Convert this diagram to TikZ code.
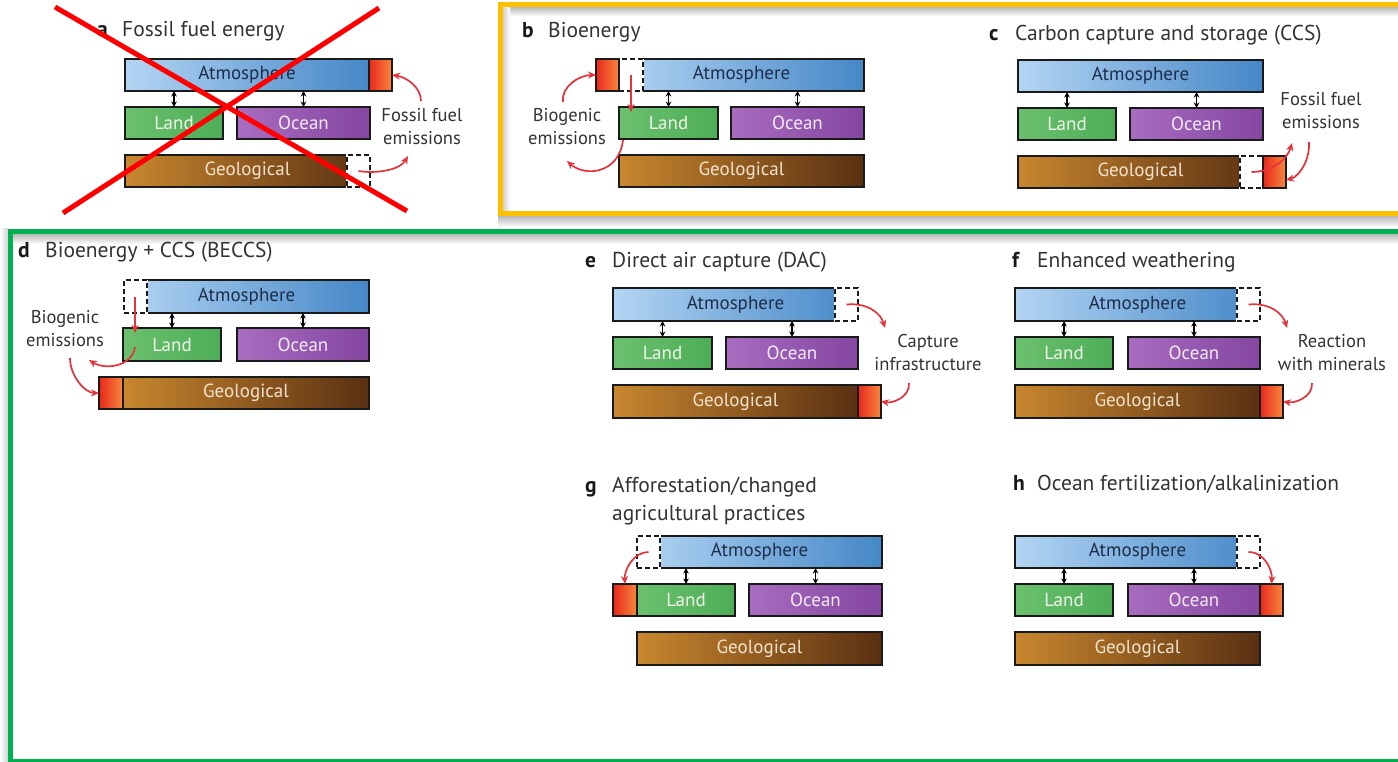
\documentclass[tikz,border=0pt]{standalone}
\usepackage{fontspec}
\setmainfont{PT Sans}
\usetikzlibrary{arrows.meta}
\definecolor{atmL}{HTML}{B3D5F3}
\definecolor{atmR}{HTML}{4587C7}
\definecolor{atmT}{HTML}{1E2D4A}
\definecolor{landL}{HTML}{6BC06E}
\definecolor{landR}{HTML}{4EAD57}
\definecolor{landT}{HTML}{EEF7EA}
\definecolor{ocL}{HTML}{A86CC0}
\definecolor{ocR}{HTML}{8446A0}
\definecolor{ocT}{HTML}{F3EAF7}
\definecolor{geoL}{HTML}{C8872F}
\definecolor{geoR}{HTML}{5A3012}
\definecolor{geoT}{HTML}{F4E3CC}
\definecolor{redL}{HTML}{E8281C}
\definecolor{redR}{HTML}{F8883E}
\definecolor{edge}{HTML}{1A1A1A}
\definecolor{arr}{HTML}{E5323B}
\definecolor{txt}{HTML}{333333}
\definecolor{frO}{HTML}{FFC000}
\definecolor{frG}{HTML}{00B050}
\definecolor{xred}{HTML}{FF0000}
\tikzset{
  cbox/.style={draw=edge, line width=1.4pt, inner sep=0pt, outer sep=0pt, font=\fontsize{19}{22}\selectfont},
  atm/.style={cbox, left color=atmL, right color=atmR, text=atmT},
  land/.style={cbox, left color=landL, right color=landR, text=landT},
  ocean/.style={cbox, left color=ocL, right color=ocR, text=ocT},
  geo/.style={cbox, left color=geoL, right color=geoR, text=geoT},
  redb/.style={cbox, left color=redL, right color=redR},
  dsh/.style={draw=edge, line width=1.3pt, dash pattern=on 5pt off 3pt, fill=white, inner sep=0pt, outer sep=0pt,
              preaction={draw=white, line width=2.8pt, solid}},
  dbl/.style={draw=black, line width=1.3pt, {Stealth[length=5.5pt,width=5.5pt]}-{Stealth[length=5.5pt,width=5.5pt]}},
  rarr/.style={draw=arr, line width=1.7pt, -{Stealth[length=8pt,width=7pt]}},
  lbl/.style={align=center, font=\fontsize{18.5}{23}\selectfont, text=txt, inner sep=0pt},
  ttl/.style={anchor=base west, font=\fontsize{21.5}{27}\selectfont, text=txt, inner sep=0pt},
  ltr/.style={anchor=base west, font=\fontsize{21.5}{27}\selectfont\bfseries, text=black!90, inner sep=0pt},
}
\newcommand\bx[7]{\node[#1, minimum width={(#5-#3)*1pt}, minimum height={(#6-#4)*1pt}] (#2) at ({(#3+#5)/2},{(#4+#6)/2}) {#7};}
\begin{document}
\begin{tikzpicture}[x=1pt,y=-1pt]
\useasboundingbox (0,0) rectangle (1398,762);
\clip (0,0) rectangle (1398,762);
\fill[white] (0,0) rectangle (1398,762);

% ---- frames and shadows
\shade[top color=black!28, bottom color=white] (503,7) rectangle (1398,16);
\shade[top color=black!28, bottom color=white] (498,216) rectangle (1398,227);
\shade[left color=black!18, right color=white] (503,7) rectangle (510,211);
\shade[top color=black!28, bottom color=white] (13,234) rectangle (1398,244);
\shade[left color=white, right color=black!18] (0,229) rectangle (8,762);
\draw[frO, line width=5pt] (1410,4.5) -- (500.5,4.5) -- (500.5,213.5) -- (1410,213.5);
\draw[frG, line width=5pt] (1410,231.5) -- (10.5,231.5) -- (10.5,761.5) -- (1410,761.5);

% ---- panel a
\node[ltr] (aN) at (97,37) {a};
\node[ttl] (aH) at (122,37) {Fossil fuel energy};
\bx{atm}{aA}{125}{59}{369}{91}{Atmosphere}
\bx{redb}{aR}{369}{59}{392}{91}{}
\bx{land}{aL}{125}{107}{223}{139}{Land}
\bx{ocean}{aO}{237}{107}{370}{139}{Ocean}
\bx{geo}{aG}{125}{155}{370}{187}{Geological}
\bx{dsh}{aD}{347}{155}{370}{187}{}
\node[lbl] (aT) at (422,127) {Fossil fuel\\emissions};
\coordinate (a1) at (421,101);
\coordinate (a2) at (408,156);
\draw[rarr] (a1) .. controls +(0,-14) and +(14,2) .. (aR.east);
\draw[rarr] (aD.center) .. controls +(18,3) and +(-8,14) .. (a2);

% ---- panel b
\node[ltr] (bN) at (522,38) {b};
\node[ttl] (bH) at (548,38) {Bioenergy};
\bx{atm}{bA}{619}{59}{864}{91}{Atmosphere}
\bx{dsh}{bD}{619}{59}{643}{91}{}
\bx{redb}{bR}{596}{59}{619}{91}{}
\bx{land}{bL}{619}{107}{718}{139}{Land}
\bx{ocean}{bO}{731}{107}{864}{139}{Ocean}
\bx{geo}{bG}{619}{155}{864}{187}{Geological}
\node[lbl] (bT) at (567,127) {Biogenic\\emissions};
\coordinate (b2) at (563,102);
\coordinate (b3) at (623,140);
\coordinate (b4) at (567,161);
\draw[rarr] (bD.center) -- ([yshift=-5pt]bD.center |- bL.north);
\draw[rarr] (b2) .. controls +(-2,-16) and +(-16,0) .. (bR.west);
\draw[rarr] (b3) .. controls +(-4,34) and +(18,16) .. (b4);

% ---- panel c
\node[ltr] (cN) at (989,41) {c};
\node[ttl] (cH) at (1015,41) {Carbon capture and storage (CCS)};
\bx{atm}{cA}{1018}{60}{1263}{92}{Atmosphere}
\bx{land}{cL}{1018}{108}{1116}{140}{Land}
\bx{ocean}{cO}{1130}{108}{1263}{140}{Ocean}
\bx{geo}{cG}{1018}{156}{1263}{188}{Geological}
\bx{dsh}{cD}{1240}{156}{1263}{188}{}
\bx{redb}{cR}{1263}{156}{1286}{188}{}
\node[lbl] (cT) at (1321,111) {Fossil fuel\\emissions};
\coordinate (c1) at (1292,143);
\coordinate (c2) at (1309,142);
\coordinate (c3) at (1286,180);
\draw[rarr] (cD.center) .. controls +(20,0) and +(-5,17) .. (c1);
\draw[rarr] (c2) .. controls +(1,20) and +(12,-3) .. (c3);

% ---- panel d
\node[ltr] (dN) at (18,258) {d};
\node[ttl] (dH) at (45,258) {Bioenergy + CCS (BECCS)};
\bx{atm}{dA}{124}{280}{369}{313}{Atmosphere}
\bx{dsh}{dD}{124}{280}{147}{313}{}
\bx{land}{dL}{123}{328}{221}{361}{Land}
\bx{ocean}{dO}{237}{328}{369}{361}{Ocean}
\bx{geo}{dG}{123}{377}{369}{409}{Geological}
\bx{redb}{dR}{99}{377}{123}{409}{}
\node[lbl] (dT) at (65,329) {Biogenic\\emissions};
\coordinate (d2) at (135,347);
\coordinate (d3) at (89,360);
\coordinate (d4) at (70,358);
\draw[rarr] ([xshift=-0.5pt]dD.center) -- ([xshift=-0.5pt,yshift=-5pt]dD.center |- dL.north);
\draw[rarr] (d2) .. controls +(-3,20) and +(16,10) .. (d3);
\draw[rarr] (d4) .. controls +(0,18) and +(-14,0) .. (dR.west);

% ---- panel e
\node[ltr] (eN) at (585,268) {e};
\node[ttl] (eH) at (612,268) {Direct air capture (DAC)};
\bx{atm}{eA}{613}{288}{858}{321}{Atmosphere}
\bx{dsh}{eD}{835}{288}{858}{321}{}
\bx{land}{eL}{613}{337}{712}{369}{Land}
\bx{ocean}{eO}{726}{337}{858}{369}{Ocean}
\bx{geo}{eG}{613}{385}{858}{418}{Geological}
\bx{redb}{eR}{858}{385}{881}{418}{}
\node[lbl] (eT) at (928,353) {Capture\\infrastructure};
\coordinate (e1) at (885,328);
\coordinate (e2) at (909,383);
\draw[rarr] (eD.center) .. controls +(22,-2) and +(-4,-14) .. (e1);
\draw[rarr] (e2) .. controls +(1,14) and +(12,2) .. (eR.east);

% ---- panel f
\node[ltr] (fN) at (1012,268) {f};
\node[ttl] (fH) at (1037,268) {Enhanced weathering};
\bx{atm}{fA}{1015}{288}{1260}{321}{Atmosphere}
\bx{dsh}{fD}{1237}{288}{1260}{321}{}
\bx{land}{fL}{1015}{337}{1113}{369}{Land}
\bx{ocean}{fO}{1128}{337}{1260}{369}{Ocean}
\bx{geo}{fG}{1015}{385}{1260}{418}{Geological}
\bx{redb}{fR}{1260}{385}{1283}{418}{}
\node[lbl] (fT) at (1332,353) {Reaction\\with minerals};
\coordinate (f1) at (1287,328);
\coordinate (f2) at (1312,383);
\draw[rarr] (fD.center) .. controls +(22,-2) and +(-4,-14) .. (f1);
\draw[rarr] (f2) .. controls +(1,14) and +(12,2) .. (fR.east);

% ---- panel g
\node[ltr] (gN) at (585,492) {g};
\node[ttl] (gH) at (612,492) {Afforestation/changed};
\node[ttl] (gH2) at (612,520) {agricultural practices};
\bx{atm}{gA}{637}{536}{882}{568}{Atmosphere}
\bx{dsh}{gD}{637}{536}{660}{568}{}
\bx{redb}{gR}{613}{584}{637}{616}{}
\bx{land}{gL}{637}{584}{735}{616}{Land}
\bx{ocean}{gO}{749}{584}{882}{616}{Ocean}
\bx{geo}{gG}{637}{632}{882}{665}{Geological}
\draw[rarr] (gD.center) .. controls +(-15,0) and +(-1,-14) .. (gR.north);

% ---- panel h
\node[ltr] (hN) at (1013,490) {h};
\node[ttl] (hH) at (1037,490) {Ocean fertilization/alkalinization};
\bx{atm}{hA}{1015}{536}{1260}{568}{Atmosphere}
\bx{dsh}{hD}{1237}{536}{1260}{568}{}
\bx{land}{hL}{1015}{584}{1113}{616}{Land}
\bx{ocean}{hO}{1128}{584}{1260}{616}{Ocean}
\bx{redb}{hR}{1260}{584}{1283}{616}{}
\bx{geo}{hG}{1015}{632}{1260}{665}{Geological}
\draw[rarr] (hD.center) .. controls +(16,0) and +(1,-14) .. (hR.north);

% ---- exchange arrows
\foreach \p in {a,b,c,d,e,f,g,h}{
  \draw[dbl] (\p L.north) -- (\p L.north |- \p A.south);
  \draw[dbl] (\p O.north) -- (\p O.north |- \p A.south);
}

% ---- red cross over panel a
\coordinate (x1) at (55,7);
\coordinate (x2) at (407,211);
\coordinate (x3) at (379,8);
\coordinate (x4) at (63,213);
\draw[xred, line width=5pt] (x1) -- (x2);
\draw[xred, line width=5pt] (x3) -- (x4);
\end{tikzpicture}
\end{document}
